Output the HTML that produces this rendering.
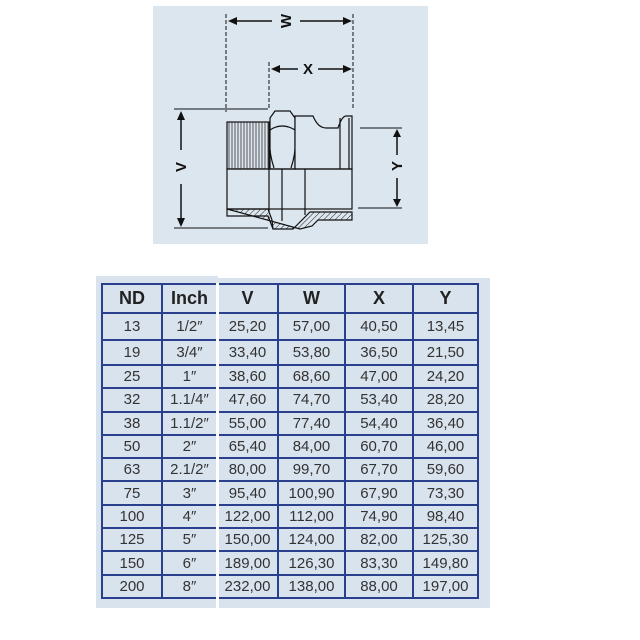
<!DOCTYPE html>
<html><head><style>
body{margin:0;width:640px;height:640px;background:#fff;position:relative;overflow:hidden;font-family:"Liberation Sans",sans-serif}
#dg{position:absolute;left:153px;top:6px;width:275px;height:238px;background:#dce6ee}
#bx{position:absolute;left:96px;top:276px;width:394px;height:332px;background:#d9e3ee}
table{position:absolute;left:101px;top:283px;border-collapse:collapse}
td{border:2px solid #2b3f8f;text-align:center;color:#333;font-size:15px;padding:0;height:21.3px}
tr.h td{font-weight:bold;font-size:18px;color:#222;height:27px}
#gap{position:absolute;left:216px;top:283px;width:3px;height:330px;background:#fff}
#gt{position:absolute;left:218px;top:276px;width:272px;height:2px;background:#fff}
</style></head><body>
<div id="dg"></div>
<svg style="position:absolute;left:0;top:0" width="640" height="260" viewBox="0 0 640 260">
<defs><pattern id="ht" width="4" height="4" patternUnits="userSpaceOnUse" patternTransform="rotate(45)"><line x1="0" y1="0" x2="0" y2="4" stroke="#222" stroke-width="1"/></pattern>
<pattern id="th" width="3" height="10" patternUnits="userSpaceOnUse"><line x1="1" y1="0" x2="1" y2="10" stroke="#333" stroke-width="0.8"/></pattern></defs>
<g stroke="#111" fill="none" stroke-width="1">
<line x1="226" y1="14" x2="226" y2="112" stroke-dasharray="4,2"/>
<line x1="353" y1="14" x2="353" y2="110" stroke-dasharray="4,2"/>
<line x1="269" y1="62" x2="269" y2="108" stroke-dasharray="4,2"/>
<line x1="230" y1="21" x2="272" y2="21" stroke-width="1.5"/><line x1="300" y1="21" x2="350" y2="21" stroke-width="1.5"/>
<line x1="273" y1="69" x2="298" y2="69" stroke-width="1.5"/><line x1="318" y1="69" x2="350" y2="69" stroke-width="1.5"/>
<line x1="174" y1="109" x2="268" y2="109"/><line x1="174" y1="228" x2="268" y2="228"/>
<line x1="181" y1="113" x2="181" y2="150" stroke-width="1.5"/><line x1="181" y1="184" x2="181" y2="225" stroke-width="1.5"/>
<line x1="360" y1="128" x2="402" y2="128"/><line x1="358" y1="208" x2="402" y2="208"/>
<line x1="397" y1="131" x2="397" y2="155" stroke-width="1.5"/><line x1="397" y1="178" x2="397" y2="205" stroke-width="1.5"/>
</g>
<g fill="#111">
<polygon points="228,21 237,17 237,25"/><polygon points="352,21 343,17 343,25"/>
<polygon points="271,69 280,65 280,73"/><polygon points="352,69 343,65 343,73"/>
<polygon points="181,111 177,120 185,120"/><polygon points="181,227 177,218 185,218"/>
<polygon points="397,129 393,137 401,137"/><polygon points="397,207 393,199 401,199"/>
</g>
<g font-family="Liberation Sans" font-weight="bold" font-size="15" fill="#111" text-anchor="middle">
<text x="286" y="26" transform="rotate(-90 286 21)">W</text>
<text x="308" y="74">X</text>
<text x="181" y="172" transform="rotate(-90 181 167)">V</text>
<text x="397" y="171" transform="rotate(-90 397 166)">Y</text>
</g>
<g stroke="#111" stroke-width="1.2" fill="none">
<rect x="227" y="122" width="42" height="47" fill="url(#th)"/>
<polygon points="270,118 275,111 290,111 295,118 295,169 270,169" fill="#dce6ee"/>
<path d="M270,130 Q282,122 295,130 M270,132 Q268,150 274,168 M295,132 Q297,150 291,168"/>
<path d="M295,116 L313,116 Q318,128 326,128 L338,128 Q342,116 346,116 L352,116 L352,169 L295,169 Z" fill="#dce6ee"/>
<line x1="340" y1="118" x2="340" y2="169"/><line x1="349" y1="118" x2="349" y2="169"/>
<rect x="227" y="169" width="125" height="40"/>
<line x1="269" y1="169" x2="269" y2="212"/><line x1="282" y1="169" x2="282" y2="221"/><line x1="305" y1="169" x2="305" y2="215"/>
<path d="M227,209 L268,209 L272,220 L273,229 L293,229 L302,220 L310,212 L352,212 L352,220 L318,220 L312,226 L300,229 Z" fill="url(#ht)"/>
<path d="M227,209 L227,216 L268,216 L273,229" fill="none"/>
</g>
</svg>
<div id="bx"></div>
<table>
<colgroup><col style="width:60px"><col style="width:55px"><col style="width:61px"><col style="width:67px"><col style="width:68px"><col style="width:65px"></colgroup>
<tr class="h"><td>ND</td><td>Inch</td><td>V</td><td>W</td><td>X</td><td>Y</td></tr>
<tr><td style="height:25px">13</td><td>1/2″</td><td>25,20</td><td>57,00</td><td>40,50</td><td>13,45</td></tr>
<tr><td style="height:23px">19</td><td>3/4″</td><td>33,40</td><td>53,80</td><td>36,50</td><td>21,50</td></tr>
<tr><td>25</td><td>1″</td><td>38,60</td><td>68,60</td><td>47,00</td><td>24,20</td></tr>
<tr><td>32</td><td>1.1/4″</td><td>47,60</td><td>74,70</td><td>53,40</td><td>28,20</td></tr>
<tr><td>38</td><td>1.1/2″</td><td>55,00</td><td>77,40</td><td>54,40</td><td>36,40</td></tr>
<tr><td>50</td><td>2″</td><td>65,40</td><td>84,00</td><td>60,70</td><td>46,00</td></tr>
<tr><td>63</td><td>2.1/2″</td><td>80,00</td><td>99,70</td><td>67,70</td><td>59,60</td></tr>
<tr><td>75</td><td>3″</td><td>95,40</td><td>100,90</td><td>67,90</td><td>73,30</td></tr>
<tr><td>100</td><td>4″</td><td>122,00</td><td>112,00</td><td>74,90</td><td>98,40</td></tr>
<tr><td>125</td><td>5″</td><td>150,00</td><td>124,00</td><td>82,00</td><td>125,30</td></tr>
<tr><td>150</td><td>6″</td><td>189,00</td><td>126,30</td><td>83,30</td><td>149,80</td></tr>
<tr><td>200</td><td>8″</td><td>232,00</td><td>138,00</td><td>88,00</td><td>197,00</td></tr>
</table>
<div id="gap"></div><div id="gt"></div>
</body></html>
